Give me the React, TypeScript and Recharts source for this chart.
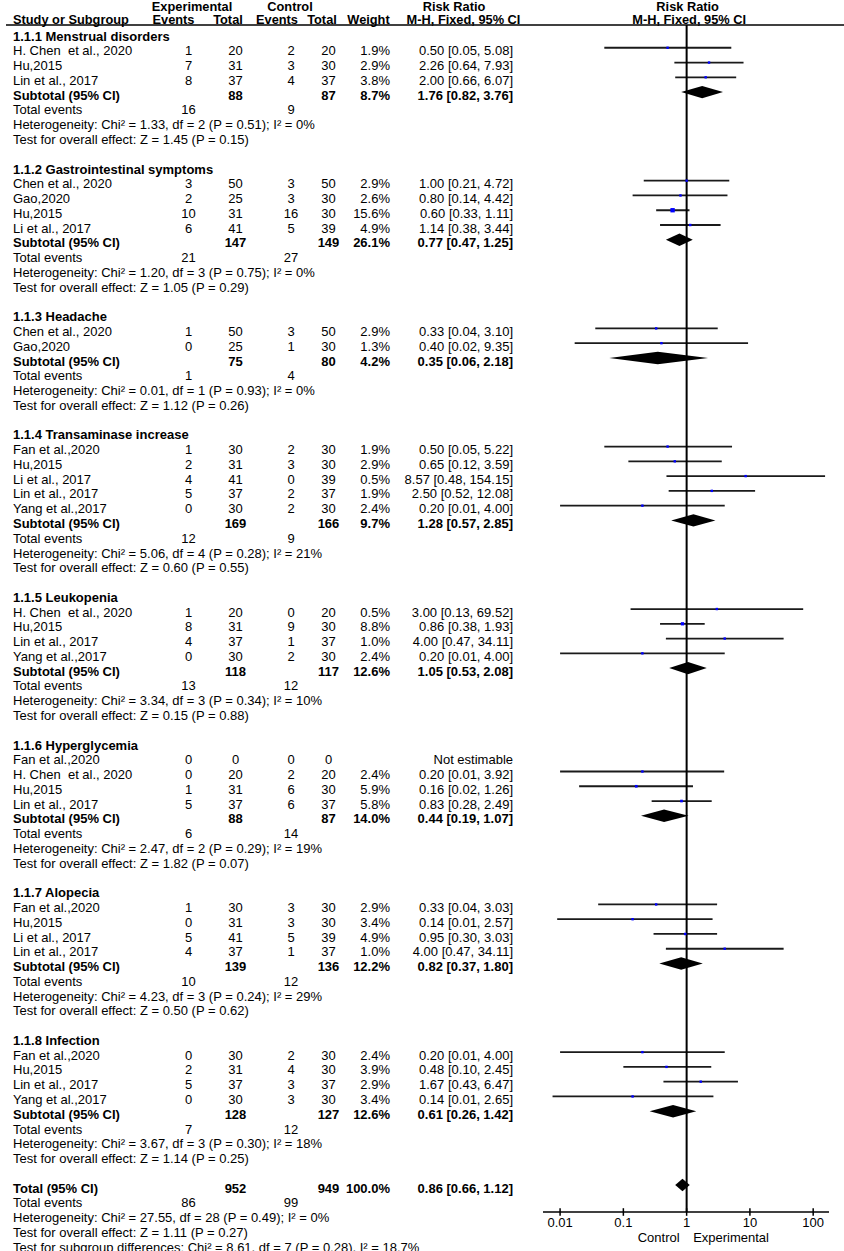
import React from "react";
import {
  ScatterChart,
  Scatter,
  XAxis,
  YAxis,
  ErrorBar,
  ReferenceLine,
  ReferenceArea,
  ReferenceDot,
} from "recharts";

// ---------------- data ----------------
const subgroupNames = [
  "1.1.1 Menstrual disorders",
  "1.1.2 Gastrointestinal symptoms",
  "1.1.3 Headache",
  "1.1.4 Transaminase increase",
  "1.1.5 Leukopenia",
  "1.1.6 Hyperglycemia",
  "1.1.7 Alopecia",
  "1.1.8 Infection",
];

const studyGroup = [0, 0, 0, 1, 1, 1, 1, 2, 2, 3, 3, 3, 3, 3, 4, 4, 4, 4, 5, 5, 5, 5, 6, 6, 6, 6, 7, 7, 7, 7];
const studyNames = [
  "H. Chen  et al., 2020", "Hu,2015", "Lin et al., 2017",
  "Chen et al., 2020", "Gao,2020", "Hu,2015", "Li et al., 2017",
  "Chen et al., 2020", "Gao,2020",
  "Fan et al.,2020", "Hu,2015", "Li et al., 2017", "Lin et al., 2017", "Yang et al.,2017",
  "H. Chen  et al., 2020", "Hu,2015", "Lin et al., 2017", "Yang et al.,2017",
  "Fan et al.,2020", "H. Chen  et al., 2020", "Hu,2015", "Lin et al., 2017",
  "Fan et al.,2020", "Hu,2015", "Li et al., 2017", "Lin et al., 2017",
  "Fan et al.,2020", "Hu,2015", "Lin et al., 2017", "Yang et al.,2017",
];
const expEvents = [1, 7, 8, 3, 2, 10, 6, 1, 0, 1, 2, 4, 5, 0, 1, 8, 4, 0, 0, 0, 1, 5, 1, 0, 5, 4, 0, 2, 5, 0];
const expTotals = [20, 31, 37, 50, 25, 31, 41, 50, 25, 30, 31, 41, 37, 30, 20, 31, 37, 30, 0, 20, 31, 37, 30, 31, 41, 37, 30, 31, 37, 30];
const ctlEvents = [2, 3, 4, 3, 3, 16, 5, 3, 1, 2, 3, 0, 2, 2, 0, 9, 1, 2, 0, 2, 6, 6, 3, 3, 5, 1, 2, 4, 3, 3];
const ctlTotals = [20, 30, 37, 50, 30, 30, 39, 50, 30, 30, 30, 39, 37, 30, 20, 30, 37, 30, 0, 20, 30, 37, 30, 30, 39, 37, 30, 30, 37, 30];
const studyWeights: (number | null)[] = [1.9, 2.9, 3.8, 2.9, 2.6, 15.6, 4.9, 2.9, 1.3, 1.9, 2.9, 0.5, 1.9, 2.4, 0.5, 8.8, 1.0, 2.4, null, 2.4, 5.9, 5.8, 2.9, 3.4, 4.9, 1.0, 2.4, 3.9, 2.9, 3.4];
const studyRR: (number | null)[] = [0.5, 2.26, 2.0, 1.0, 0.8, 0.6, 1.14, 0.33, 0.4, 0.5, 0.65, 8.57, 2.5, 0.2, 3.0, 0.86, 4.0, 0.2, null, 0.2, 0.16, 0.83, 0.33, 0.14, 0.95, 4.0, 0.2, 0.48, 1.67, 0.14];
const studyLow: (number | null)[] = [0.05, 0.64, 0.66, 0.21, 0.14, 0.33, 0.38, 0.036, 0.017, 0.05, 0.12, 0.48, 0.52, 0.01, 0.13, 0.38, 0.47, 0.01, null, 0.01, 0.02, 0.28, 0.04, 0.009, 0.3, 0.47, 0.01, 0.1, 0.43, 0.0076];
const studyHigh: (number | null)[] = [5.08, 7.93, 6.07, 4.72, 4.42, 1.11, 3.44, 3.1, 9.35, 5.22, 3.59, 154.15, 12.08, 4.0, 69.52, 1.93, 34.11, 4.0, null, 3.92, 1.26, 2.49, 3.03, 2.57, 3.03, 34.11, 4.0, 2.45, 6.47, 2.65];

const subExpTotals = [88, 147, 75, 169, 118, 88, 139, 128];
const subCtlTotals = [87, 149, 80, 166, 117, 87, 136, 127];
const subWeights = [8.7, 26.1, 4.2, 9.7, 12.6, 14.0, 12.2, 12.6];
const subRR = [1.76, 0.77, 0.35, 1.28, 1.05, 0.44, 0.82, 0.61];
const subLow = [0.82, 0.47, 0.06, 0.57, 0.53, 0.19, 0.37, 0.26];
const subHigh = [3.76, 1.25, 2.18, 2.85, 2.08, 1.07, 1.8, 1.42];
const subExpEvents = [16, 21, 1, 12, 13, 6, 10, 7];
const subCtlEvents = [9, 27, 4, 9, 12, 14, 12, 12];
const hetChi2 = [1.33, 1.2, 0.01, 5.06, 3.34, 2.47, 4.23, 3.67];
const hetDf = [2, 3, 1, 4, 3, 2, 3, 3];
const hetP = [0.51, 0.75, 0.93, 0.28, 0.34, 0.29, 0.24, 0.3];
const hetI2 = [0, 0, 0, 21, 10, 19, 29, 18];
const effectZ = [1.45, 1.05, 1.12, 0.6, 0.15, 1.82, 0.5, 1.14];
const effectP = [0.15, 0.29, 0.26, 0.55, 0.88, 0.07, 0.62, 0.25];

const overallTotals = [952, 949];
const overallEvents = [86, 99];
const overallWeight = 100.0;
const overallRR = [0.86, 0.66, 1.12]; // estimate, low, high
const overallHet = [27.55, 28, 0.49, 0]; // Chi2, df, P, I2
const overallEffect = [1.11, 0.27]; // Z, P
const subgroupDiff = [8.61, 7, 0.28, 18.7]; // Chi2, df, P, I2

const axisTicks = [0.01, 0.1, 1, 10, 100];
const favourLabels = ["Control", "Experimental"];

// ---------------- layout ----------------
const W = 844;
const H = 1251;
const FONT = '"Liberation Sans", Arial, Helvetica, sans-serif';
const FS = 13;
const X_DOMAIN: [number, number] = [-2.27, 2.25];
const Y_DOMAIN: [number, number] = [-0.5416, 79.824];
const COL = { name: 13, expEv: 188.5, expTot: 235.5, ctlEv: 291, ctlTot: 328.5, weight: 390, ci: 513 };
const BASE = 7.6;

type Row = { kind: string; g?: number; i?: number };
const rows: Row[] = [];
subgroupNames.forEach((_, g) => {
  rows.push({ kind: "group", g });
  studyGroup.forEach((sg, i) => {
    if (sg === g) rows.push({ kind: "study", i });
  });
  rows.push({ kind: "subtotal", g });
  rows.push({ kind: "events", g });
  rows.push({ kind: "het", g });
  rows.push({ kind: "test", g });
  rows.push({ kind: "blank" });
});
rows.push({ kind: "total" }, { kind: "totalEvents" }, { kind: "totalHet" }, { kind: "totalTest" }, { kind: "diff" });

const f2 = (v: number) => v.toFixed(2);
const ciText = (e: number, l: number, h: number) => `${f2(e)} [${f2(l)}, ${f2(h)}]`;
const pct = (v: number) => `${v.toFixed(1)}%`;

type Cell = { t: string; x: number; a?: "start" | "middle" | "end"; b?: boolean };

function cellsFor(r: Row): Cell[] {
  const g = r.g as number;
  const i = r.i as number;
  switch (r.kind) {
    case "group":
      return [{ t: subgroupNames[g], x: COL.name, b: true }];
    case "study": {
      const c: Cell[] = [
        { t: studyNames[i], x: COL.name },
        { t: String(expEvents[i]), x: COL.expEv, a: "middle" },
        { t: String(expTotals[i]), x: COL.expTot, a: "middle" },
        { t: String(ctlEvents[i]), x: COL.ctlEv, a: "middle" },
        { t: String(ctlTotals[i]), x: COL.ctlTot, a: "middle" },
      ];
      const w = studyWeights[i];
      const e = studyRR[i];
      if (w !== null) c.push({ t: pct(w), x: COL.weight, a: "end" });
      c.push({
        t: e === null ? "Not estimable" : ciText(e, studyLow[i] as number, studyHigh[i] as number),
        x: COL.ci,
        a: "end",
      });
      return c;
    }
    case "subtotal":
      return [
        { t: "Subtotal (95% CI)", x: COL.name, b: true },
        { t: String(subExpTotals[g]), x: COL.expTot, a: "middle", b: true },
        { t: String(subCtlTotals[g]), x: COL.ctlTot, a: "middle", b: true },
        { t: pct(subWeights[g]), x: COL.weight, a: "end", b: true },
        { t: ciText(subRR[g], subLow[g], subHigh[g]), x: COL.ci, a: "end", b: true },
      ];
    case "events":
      return [
        { t: "Total events", x: COL.name },
        { t: String(subExpEvents[g]), x: COL.expEv, a: "middle" },
        { t: String(subCtlEvents[g]), x: COL.ctlEv, a: "middle" },
      ];
    case "het":
      return [
        {
          t: `Heterogeneity: Chi\u00b2 = ${f2(hetChi2[g])}, df = ${hetDf[g]} (P = ${f2(hetP[g])}); I\u00b2 = ${hetI2[g]}%`,
          x: COL.name,
        },
      ];
    case "test":
      return [{ t: `Test for overall effect: Z = ${f2(effectZ[g])} (P = ${f2(effectP[g])})`, x: COL.name }];
    case "total":
      return [
        { t: "Total (95% CI)", x: COL.name, b: true },
        { t: String(overallTotals[0]), x: COL.expTot, a: "middle", b: true },
        { t: String(overallTotals[1]), x: COL.ctlTot, a: "middle", b: true },
        { t: pct(overallWeight), x: COL.weight, a: "end", b: true },
        { t: ciText(overallRR[0], overallRR[1], overallRR[2]), x: COL.ci, a: "end", b: true },
      ];
    case "totalEvents":
      return [
        { t: "Total events", x: COL.name },
        { t: String(overallEvents[0]), x: COL.expEv, a: "middle" },
        { t: String(overallEvents[1]), x: COL.ctlEv, a: "middle" },
      ];
    case "totalHet":
      return [
        {
          t: `Heterogeneity: Chi\u00b2 = ${f2(overallHet[0])}, df = ${overallHet[1]} (P = ${f2(overallHet[2])}); I\u00b2 = ${overallHet[3]}%`,
          x: COL.name,
        },
      ];
    case "totalTest":
      return [{ t: `Test for overall effect: Z = ${f2(overallEffect[0])} (P = ${f2(overallEffect[1])})`, x: COL.name }];
    case "diff":
      return [
        {
          t: `Test for subgroup differences: Chi\u00b2 = ${f2(subgroupDiff[0])}, df = ${subgroupDiff[1]} (P = ${f2(subgroupDiff[2])}), I\u00b2 = ${subgroupDiff[3]}%`,
          x: COL.name,
        },
      ];
    default:
      return [];
  }
}

const Txt = ({ x, y, a = "start", b = false, fs = FS, children }: any) => (
  <text
    x={x}
    y={y}
    textAnchor={a}
    fontFamily={FONT}
    fontSize={fs}
    fontWeight={b ? "bold" : "normal"}
    fill="#000"
    style={{ whiteSpace: "pre" }}
  >
    {children}
  </text>
);

const lg = (v: number) => Math.log10(v);

// scatter data for study points
const studyPoints = studyRR
  .map((e, i) => ({ e, i }))
  .filter((d) => d.e !== null)
  .map(({ e, i }) => {
    const row = rows.findIndex((r) => r.kind === "study" && r.i === i);
    const x = lg(e as number);
    return {
      x,
      y: row,
      w: studyWeights[i] as number,
      err: [x - lg(studyLow[i] as number), lg(studyHigh[i] as number) - x],
    };
  });

const diamonds = [
  ...subRR.map((e, g) => ({
    row: rows.findIndex((r) => r.kind === "subtotal" && r.g === g),
    e,
    l: subLow[g],
    h: subHigh[g],
  })),
  { row: rows.findIndex((r) => r.kind === "total"), e: overallRR[0], l: overallRR[1], h: overallRR[2] },
];

const AxisTick = (p: any) => {
  const { x, y, payload } = p;
  const idx = axisTicks.findIndex((t) => Math.abs(lg(t) - payload.value) < 1e-9);
  return (
    <g>
      <line x1={x} x2={x} y1={y - 3.8} y2={y + 3.8} stroke="#000" strokeWidth={1.5} />
      <Txt x={x} y={y + 14.6} a="middle">
        {String(axisTicks[idx])}
      </Txt>
      {payload.value === 0 && (
        <g>
          <Txt x={x - 7} y={y + 29.7} a="end">
            {favourLabels[0]}
          </Txt>
          <Txt x={x + 6.5} y={y + 29.7} a="start">
            {favourLabels[1]}
          </Txt>
        </g>
      )}
    </g>
  );
};

const headerShape = (p: any) => {
  const cy = p.cy; // row -1
  const cx = p.cx; // x = 1 (log 0)
  const lineY = cy + 6.8;
  const y1 = lineY - 14.2;
  const y2 = lineY - 1.4;
  const hs = 12.8;
  return (
    <g>
      <Txt x={192} y={y1} a="middle" b fs={hs}>Experimental</Txt>
      <Txt x={290} y={y1} a="middle" b fs={hs}>Control</Txt>
      <Txt x={454} y={y1} a="middle" b fs={hs}>Risk Ratio</Txt>
      <Txt x={cx + 1} y={y1} a="middle" b fs={hs}>Risk Ratio</Txt>
      <Txt x={COL.name} y={y2} b fs={hs}>Study or Subgroup</Txt>
      <Txt x={173.5} y={y2} a="middle" b fs={hs}>Events</Txt>
      <Txt x={228} y={y2} a="middle" b fs={hs}>Total</Txt>
      <Txt x={277} y={y2} a="middle" b fs={hs}>Events</Txt>
      <Txt x={322} y={y2} a="middle" b fs={hs}>Total</Txt>
      <Txt x={368.5} y={y2} a="middle" b fs={hs}>Weight</Txt>
      <Txt x={463.5} y={y2} a="middle" b fs={hs}>M-H, Fixed, 95% CI</Txt>
      <Txt x={cx + 2.5} y={y2} a="middle" b fs={hs}>M-H, Fixed, 95% CI</Txt>
      <line x1={6} x2={W} y1={lineY} y2={lineY} stroke="#000" strokeWidth={1.5} />
    </g>
  );
};

export default function App() {
  return (
    <div style={{ position: "absolute", left: 0, top: 0, width: W, height: H, background: "#fff" }}>
      <ScatterChart width={W} height={H} margin={{ top: 25, right: 15, bottom: 0, left: 543 }}>
        <XAxis
          type="number"
          dataKey="x"
          domain={X_DOMAIN}
          ticks={axisTicks.map(lg)}
          allowDataOverflow
          interval={0}
          height={39}
          tickSize={0}
          tickMargin={0}
          tickLine={false}
          axisLine={{ stroke: "#000", strokeWidth: 1.5 }}
          tick={<AxisTick />}
        />
        <YAxis type="number" dataKey="y" domain={Y_DOMAIN} reversed hide allowDataOverflow />

        <ReferenceDot x={0} y={-1} r={0} ifOverflow="visible" shape={headerShape} />
        {rows.map((r, idx) => (
          <ReferenceDot
            key={`row-${idx}`}
            x={0}
            y={idx}
            r={0}
            ifOverflow="visible"
            shape={(p: any) => (
              <g>
                {cellsFor(r).map((c, k) => (
                  <Txt key={k} x={c.x} y={p.cy + BASE} a={c.a || "start"} b={c.b}>
                    {c.t}
                  </Txt>
                ))}
              </g>
            )}
          />
        ))}

        {diamonds.map((d, k) => {
          const frac = (lg(d.e) - lg(d.l)) / (lg(d.h) - lg(d.l));
          return (
            <ReferenceArea
              key={`dia-${k}`}
              x1={lg(d.l)}
              x2={lg(d.h)}
              y1={d.row - 0.42}
              y2={d.row + 0.42}
              ifOverflow="visible"
              shape={(p: any) => {
                const { x, y, width, height } = p;
                const mx = x + width * frac;
                return (
                  <polygon
                    points={`${x},${y + height / 2} ${mx},${y} ${x + width},${y + height / 2} ${mx},${y + height}`}
                    fill="#000"
                    stroke="none"
                  />
                );
              }}
            />
          );
        })}

        <Scatter
          data={studyPoints}
          isAnimationActive={false}
          shape={(p: any) => {
            const s = Math.max(2.4, 1.1 * Math.sqrt(p.payload.w));
            return <rect x={p.cx - s / 2} y={p.cy - s / 2} width={s} height={s} fill="#0000ff" />;
          }}
        >
          <ErrorBar dataKey="err" direction="x" width={0} stroke="#1a1a1a" strokeWidth={1.8} isAnimationActive={false} />
        </Scatter>

        <ReferenceLine x={0} stroke="#000" strokeWidth={2} ifOverflow="visible" />
      </ScatterChart>
    </div>
  );
}
